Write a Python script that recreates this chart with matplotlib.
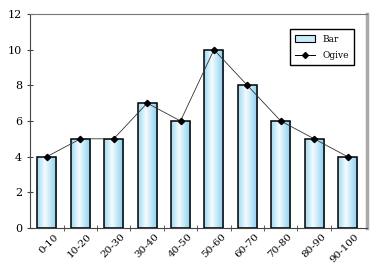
import numpy as np
import matplotlib
matplotlib.use("Agg")
import matplotlib.pyplot as plt
import matplotlib.transforms as mtransforms
from matplotlib.colors import LinearSegmentedColormap
from matplotlib.patches import Patch
from matplotlib.lines import Line2D

classes = ["0-10", "10-20", "20-30", "30-40", "40-50",
           "50-60", "60-70", "70-80", "80-90", "90-100"]
freq = [4, 5, 5, 7, 6, 10, 8, 6, 5, 4]

plt.rcParams["font.family"] = "DejaVu Serif"

fig = plt.figure(figsize=(3.79, 2.65), dpi=100)
ax = fig.add_axes([0.079, 0.14, 0.889, 0.807])

x = np.arange(len(classes))
width = 0.57
cmap = LinearSegmentedColormap.from_list(
    "barfill", [(0.0, "#9fd9f2"), (0.4, "#f4fbfe"), (1.0, "#86cfef")])
grad = np.linspace(0, 1, 64).reshape(1, -1)

bars = ax.bar(x, freq, width, facecolor="none", edgecolor="black", lw=1.1, zorder=3)
for b in bars:
    x0, y0 = b.get_x(), b.get_y()
    im = ax.imshow(grad, cmap=cmap, aspect="auto", zorder=2,
                   extent=(x0, x0 + b.get_width(), y0, y0 + b.get_height()))
    im.set_clip_path(b)

ax.plot(x, freq, "-", color="#333333", lw=0.6, zorder=4)
ax.plot(x, freq, "D", color="black", ms=3.2, zorder=5)

ax.set_xlim(-0.51, 9.58)
ax.set_ylim(0, 12)
ax.set_yticks(range(0, 13, 2))
ax.set_xticks(x)
ax.set_xticklabels(classes, rotation=45, ha="right", rotation_mode="anchor")
ax.set_xticks(np.arange(0.5, 9.5, 1), minor=True)
ax.tick_params(axis="x", which="major", length=0, labelsize=7.5, pad=3)
ax.tick_params(axis="x", which="minor", length=4, direction="inout", color="#444444")
ax.tick_params(axis="y", length=4, direction="inout", labelsize=8, color="#444444")

# shift rotated labels right so they end just past the bar centre
shift = mtransforms.ScaledTranslation(7 / 100, 0, fig.dpi_scale_trans)
for lab in ax.get_xticklabels():
    lab.set_transform(lab.get_transform() + shift)

ax.spines["top"].set_color("#777777")
ax.spines["top"].set_linewidth(0.8)
ax.spines["right"].set_color("#aaaaaa")
ax.spines["right"].set_linewidth(2.5)
ax.spines["left"].set_color("#444444")
ax.spines["bottom"].set_color("#444444")

handles = [Patch(facecolor="#c8ecfa", edgecolor="black", lw=0.8),
           Line2D([0], [0], color="black", lw=0.7, marker="D", ms=3)]
ax.legend(handles, ["Bar", "Ogive"], loc="upper right", fontsize=6.5,
          frameon=True, fancybox=False, edgecolor="black", framealpha=1,
          bbox_to_anchor=(0.975, 0.95), handlelength=2.2, borderpad=0.6,
          labelspacing=0.8)

fig.savefig("out.png", dpi=100)
